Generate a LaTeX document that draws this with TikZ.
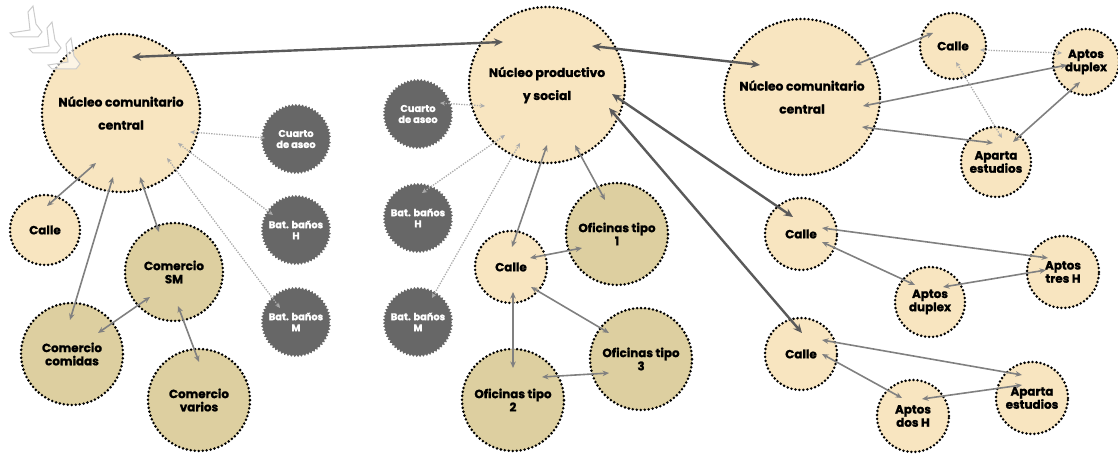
\documentclass[tikz,border=0pt]{standalone}
\usepackage{fontspec}
\setmainfont{Poppins}[BoldFeatures={FakeBold=1.3}]
\usetikzlibrary{arrows.meta,decorations.pathmorphing}
\definecolor{beige}{HTML}{F8E5C0}
\definecolor{khaki}{HTML}{DDCFA0}
\definecolor{gearc}{HTML}{676767}
\definecolor{thickc}{HTML}{5A5A5A}
\definecolor{medc}{HTML}{808080}
\definecolor{dotc}{HTML}{ABABAB}
\definecolor{chevc}{HTML}{CCCCCC}
\tikzset{
  circ/.style={circle, inner sep=0pt, minimum size=2*#1, draw=black, line width=2.8pt,
     dash pattern=on 0pt off 4pt, line cap=round, align=center,
     font=\bfseries\fontsize{11.9}{13.2}\selectfont, text=black},
  lbox/.style={circ=#1, fill=beige},
  kbox/.style={circ=#1, fill=khaki},
  bigbox/.style={circ=#1, fill=beige, font=\bfseries\fontsize{12.3}{23}\selectfont},
  gearbox/.style={circle, inner sep=0pt, minimum size=68pt, fill=gearc, align=center,
     text=white, font=\bfseries\fontsize{9.8}{11}\selectfont,
     decorate, decoration={zigzag, segment length=3.4pt, amplitude=1.1pt}},
  thickarr/.style={draw=thickc, line width=2.4pt, {Stealth[length=9pt,width=8pt]}-{Stealth[length=9pt,width=8pt]}},
  medarr/.style={draw=medc, line width=1.6pt, {Stealth[length=6.5pt,width=5.5pt]}-{Stealth[length=6.5pt,width=5.5pt]}},
  dotarr/.style={draw=dotc, line width=1.3pt, dash pattern=on 1.3pt off 1.3pt, {Stealth[length=5pt,width=4.5pt]}-{Stealth[length=5pt,width=4.5pt]}},
  chev/.style={draw=chevc, line width=1pt, fill=white, fill opacity=0.6, line join=miter}
}
\begin{document}
\begin{tikzpicture}[x=1pt,y=-1pt]
\useasboundingbox (0,0) rectangle (1118,454);
% nodes
\node[bigbox=79pt] (lnuc) at (121,113) {Núcleo comunitario\\central};
\node[lbox=35pt] (lcalle) at (45,230) {Calle};
\node[kbox=49pt] (csm) at (174,272) {Comercio\\SM};
\node[kbox=51pt] (ccom) at (72,354) {Comercio\\comidas};
\node[kbox=51pt] (cvar) at (199,400) {Comercio\\varios};
\node[gearbox] (g1) at (296,139) {Cuarto\\de aseo};
\node[gearbox] (g2) at (296,230) {Bat. baños\\H};
\node[gearbox] (g3) at (296,322) {Bat. baños\\M};
\node[gearbox] (g4) at (418,114) {Cuarto\\de aseo};
\node[gearbox] (g5) at (418,218) {Bat. baños\\H};
\node[gearbox] (g6) at (418,322) {Bat. baños\\M};
\node[bigbox=78pt] (pnuc) at (547,85) {Núcleo productivo\\y social};
\node[lbox=36pt] (mcalle) at (511,267) {Calle};
\node[kbox=51pt] (of1) at (617,234) {Oficinas tipo\\1};
\node[kbox=51pt] (of3) at (641,359) {Oficinas tipo\\3};
\node[kbox=51pt] (of2) at (513,400) {Oficinas tipo\\2};
\node[bigbox=78pt] (rnuc) at (802,97) {Núcleo comunitario\\central};
\node[lbox=33pt] (rcalle) at (953,46) {Calle};
\node[lbox=33pt] (rdup) at (1086,62) {Aptos\\duplex};
\node[lbox=35pt] (rest) at (996,162) {Aparta\\estudios};
\node[lbox=36pt] (c2) at (801,234) {Calle};
\node[lbox=35pt] (dup2) at (930,302) {Aptos\\duplex};
\node[lbox=36pt] (tres) at (1063,272) {Aptos\\tres H};
\node[lbox=36pt] (c3) at (801,354) {Calle};
\node[lbox=36pt] (dos) at (913,416) {Aptos\\dos H};
\node[lbox=36pt] (est3) at (1032,398) {Aparta\\estudios};
% chevrons (decoration, top left)
\foreach \dx/\dy in {0/0,19/16,38/32}{
  \draw[chev] ([shift={(\dx,\dy)}]28,12) -- ([shift={(\dx,\dy)}]33,6) -- ([shift={(\dx,\dy)}]36,24)
     -- ([shift={(\dx,\dy)}]42,32) -- ([shift={(\dx,\dy)}]38,37) -- ([shift={(\dx,\dy)}]14,37)
     -- ([shift={(\dx,\dy)}]10,33) -- ([shift={(\dx,\dy)}]30,30) -- cycle;
}
% connector end points
\coordinate (t1a) at (132,57);  \coordinate (t1b) at (503,42);
\coordinate (t2a) at (592,46);  \coordinate (t2b) at (760,65);
\coordinate (t3a) at (612,94);  \coordinate (t3b) at (793,217);
\coordinate (t4a) at (609,108); \coordinate (t4b) at (802,333);
% thick arrows
\draw[thickarr] (t1a) -- (t1b);
\draw[thickarr] (t2a) -- (t2b);
\draw[thickarr] (t3a) -- (t3b);
\draw[thickarr] (t4a) -- (t4b);
% left cluster
\coordinate (m1a) at (96,163);  \coordinate (m1b) at (47,206);
\coordinate (m2a) at (113,177); \coordinate (m2b) at (70,320);
\coordinate (m3a) at (140,177); \coordinate (m3b) at (159,232);
\coordinate (m4a) at (150,297); \coordinate (m4b) at (98,333);
\coordinate (m5a) at (178,306); \coordinate (m5b) at (199,362);
\draw[medarr] (m1a) -- (m1b);
\draw[medarr] (m2a) -- (m2b);
\draw[medarr] (m3a) -- (m3b);
\draw[medarr] (m4a) -- (m4b);
\draw[medarr] (m5a) -- (m5b);
% dotted gear links
\coordinate (d1a) at (190,132); \coordinate (d1b) at (265,138);
\coordinate (d2a) at (178,143); \coordinate (d2b) at (273,215);
\coordinate (d3a) at (167,158); \coordinate (d3b) at (280,308);
\coordinate (d4a) at (440,103); \coordinate (d4b) at (485,106);
\coordinate (d5a) at (422,193); \coordinate (d5b) at (505,135);
\coordinate (d6a) at (432,298); \coordinate (d6b) at (520,143);
\draw[dotarr] (d1a) -- (d1b);
\draw[dotarr] (d2a) -- (d2b);
\draw[dotarr] (d3a) -- (d3b);
\draw[dotarr] (d4a) -- (d4b);
\draw[dotarr] (d5a) -- (d5b);
\draw[dotarr] (d6a) -- (d6b);
% middle cluster
\coordinate (n1a) at (547,145); \coordinate (n1b) at (512,247);
\coordinate (n2a) at (575,145); \coordinate (n2b) at (605,200);
\coordinate (n3a) at (530,258); \coordinate (n3b) at (582,248);
\coordinate (n4a) at (531,287); \coordinate (n4b) at (609,333);
\coordinate (n5a) at (513,292); \coordinate (n5b) at (513,368);
\coordinate (n6a) at (542,377); \coordinate (n6b) at (609,373);
\draw[medarr] (n1a) -- (n1b);
\draw[medarr] (n2a) -- (n2b);
\draw[medarr] (n3a) -- (n3b);
\draw[medarr] (n4a) -- (n4b);
\draw[medarr] (n5a) -- (n5b);
\draw[medarr] (n6a) -- (n6b);
% right top cluster
\coordinate (r1a) at (855,65);  \coordinate (r1b) at (933,33);
\coordinate (r2a) at (863,106); \coordinate (r2b) at (1067,65);
\coordinate (r3a) at (862,127); \coordinate (r3b) at (993,143);
\coordinate (r4a) at (1013,142); \coordinate (r4b) at (1080,82);
\coordinate (r5a) at (980,50);  \coordinate (r5b) at (1062,53);
\coordinate (r6a) at (956,62);  \coordinate (r6b) at (1002,138);
\draw[medarr] (r1a) -- (r1b);
\draw[medarr] (r2a) -- (r2b);
\draw[medarr] (r3a) -- (r3b);
\draw[medarr] (r4a) -- (r4b);
\draw[dotarr] (r5a) -- (r5b);
\draw[dotarr] (r6a) -- (r6b);
% right middle cluster
\coordinate (s1a) at (822,228); \coordinate (s1b) at (1048,258);
\coordinate (s2a) at (822,242); \coordinate (s2b) at (915,285);
\coordinate (s3a) at (943,287); \coordinate (s3b) at (1046,270);
\draw[medarr] (s1a) -- (s1b);
\draw[medarr] (s2a) -- (s2b);
\draw[medarr] (s3a) -- (s3b);
% right lower cluster
\coordinate (u1a) at (822,340); \coordinate (u1b) at (1022,375);
\coordinate (u2a) at (822,354); \coordinate (u2b) at (902,398);
\coordinate (u3a) at (922,399); \coordinate (u3b) at (1022,385);
\draw[medarr] (u1a) -- (u1b);
\draw[medarr] (u2a) -- (u2b);
\draw[medarr] (u3a) -- (u3b);
\end{tikzpicture}
\end{document}
